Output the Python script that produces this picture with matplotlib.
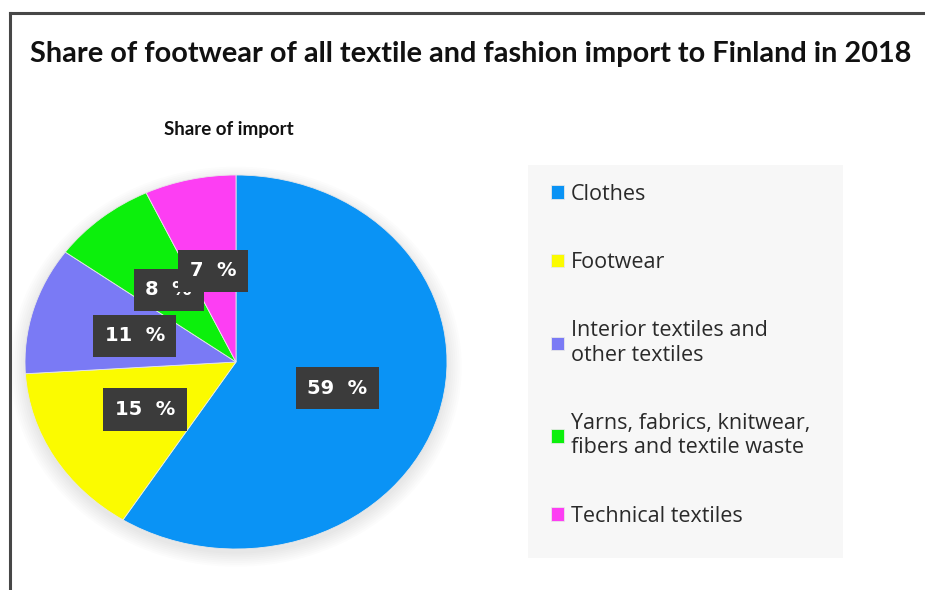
import matplotlib.pyplot as plt
from matplotlib.patches import Ellipse, Rectangle
from matplotlib.lines import Line2D

# Data
categories = ['Clothes', 'Footwear', 'Interior textiles and\nother textiles',
              'Yarns, fabrics, knitwear,\nfibers and textile waste', 'Technical textiles']
shares = [59, 15, 11, 8, 7]
colors = ['#0a93f5', '#fbfb00', '#7a7af5', '#0cf00c', '#fd3ef3']

fig = plt.figure(figsize=(9.25, 5.9), dpi=100)
W, H = 925, 590

def fx(px):
    return px / W

def fy(py):
    return 1 - py / H

# frame lines (left and top), cut off on the right/bottom like the screenshot
fig.add_artist(Line2D([fx(10), fx(10)], [fy(13), 0], color='#474747', lw=2.2))
fig.add_artist(Line2D([fx(10), 1], [fy(13), fy(13)], color='#474747', lw=2.2))

fig.text(fx(30), fy(54), 'Share of footwear of all textile and fashion import to Finland in 2018',
         fontsize=20.8, fontweight='bold', family='Lato',
         ha='left', va='center', color='#111111')
fig.text(fx(229), fy(129), 'Share of import', fontsize=13.5, fontweight='bold',
         family='Lato', ha='center', va='center', color='#111111')

# pie (elliptical, as in the stretched screenshot)
ax = fig.add_axes([fx(25), fy(549), fx(447) - fx(25), fy(175) - fy(549)])
for k in range(8):
    s = 1.0 + 0.01 * k
    ax.add_patch(Ellipse((0, -0.025), 2 * s, 2 * s, color='#000000', alpha=0.013,
                         lw=0, clip_on=False, zorder=0))

wedges, texts, autotexts = ax.pie(
    shares, colors=colors, startangle=90, counterclock=False, radius=1,
    autopct=lambda p: f'{p:.0f}  %', pctdistance=0.5,
    wedgeprops=dict(edgecolor='#e8e8e8', linewidth=0.6),
    textprops=dict(color='white', fontsize=14, fontweight='bold'))
for t in autotexts:
    t.set_bbox(dict(boxstyle='square,pad=0.6', facecolor='#3b3b3b', edgecolor='none'))
    t.set_zorder(5)
ax.set_aspect('auto')
ax.set_xlim(-1, 1)
ax.set_ylim(-1, 1)
ax.axis('off')

# legend panel
fig.add_artist(Rectangle((fx(528), fy(558)), fx(843) - fx(528), fy(165) - fy(558),
                         transform=fig.transFigure, facecolor='#f7f7f7', edgecolor='none',
                         zorder=0))
fig.legend(wedges, categories, loc='upper left', bbox_to_anchor=(fx(540), fy(173)),
           frameon=False, prop=dict(family='Open Sans', size=15.5),
           handlelength=0.6, handleheight=0.6, handletextpad=0.35,
           labelspacing=2.2, borderpad=0, labelcolor='#2a2a2a')

plt.savefig('out.png', dpi=100)
